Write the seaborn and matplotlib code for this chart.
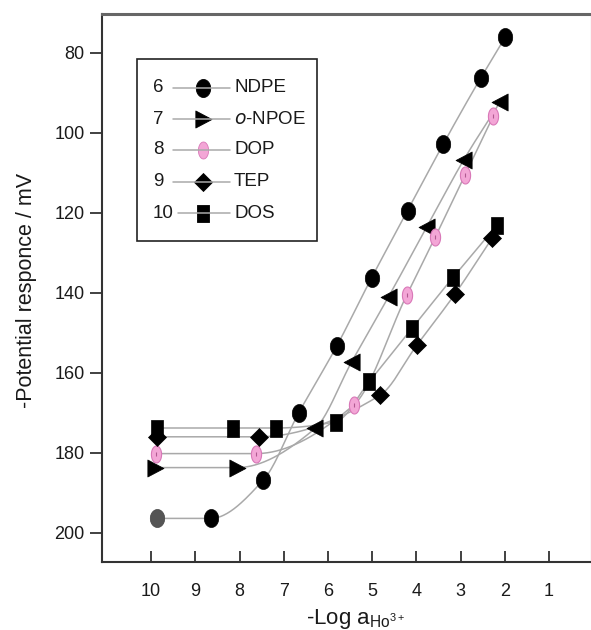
import numpy as np
import pandas as pd
import matplotlib
matplotlib.use("Agg")
import matplotlib.pyplot as plt
from matplotlib.path import Path
from matplotlib.markers import MarkerStyle
from matplotlib.lines import Line2D
from matplotlib.patches import Rectangle
import seaborn as sns

# ---------------- data ----------------
ndpe_x = [9.86, 8.65, 7.46, 6.66, 5.80, 5.01, 4.20, 3.39, 2.54, 1.99]
ndpe_y = [196.4, 196.4, 186.8, 170.0, 153.3, 136.2, 119.5, 102.8, 86.2, 76.1]

npoe_x = [9.91, 8.06, 6.29, 5.46, 4.63, 3.76, 2.93, 2.10]
npoe_y = [183.7, 183.7, 173.9, 157.2, 141.0, 123.5, 106.8, 92.2]
npoe_dir = ['>', '>', '<', '<', '<', '<', '<', '<']

dop_x = [9.89, 7.63, 5.42, 4.22, 3.57, 2.90, 2.26]
dop_y = [180.2, 180.2, 168.1, 140.6, 126.0, 110.6, 95.8]

tep_x = [9.86, 7.57, 4.82, 3.99, 3.12, 2.29]
tep_y = [176.0, 176.0, 165.6, 153.1, 140.2, 126.4]

dos_x = [9.86, 8.14, 7.17, 5.82, 5.06, 4.10, 3.16, 2.18]
dos_y = [173.8, 173.8, 173.8, 172.2, 162.1, 148.9, 136.0, 123.1]

series_names = ["NDPE", "o-NPOE", "DOP", "TEP", "DOS"]
series_nums = ["6", "7", "8", "9", "10"]

x_ticks = [10, 9, 8, 7, 6, 5, 4, 3, 2, 1]
y_ticks = [80, 100, 120, 140, 160, 180, 200]

# ---------------- helpers ----------------
def pchip(x, y, xs):
    x = np.asarray(x, float); y = np.asarray(y, float)
    o = np.argsort(x); x = x[o]; y = y[o]
    h = np.diff(x); d = np.diff(y) / h
    n = len(x); m = np.zeros(n)
    for k in range(1, n - 1):
        if d[k - 1] * d[k] <= 0:
            m[k] = 0.0
        else:
            w1 = 2 * h[k] + h[k - 1]; w2 = h[k] + 2 * h[k - 1]
            m[k] = (w1 + w2) / (w1 / d[k - 1] + w2 / d[k])
    m[0] = d[0] if abs(d[0]) > 1e-9 else 0.0
    m[-1] = d[-1]
    out = np.empty_like(xs)
    for i, xv in enumerate(xs):
        k = min(max(np.searchsorted(x, xv) - 1, 0), n - 2)
        t = (xv - x[k]) / h[k]
        h00 = 2*t**3 - 3*t**2 + 1; h10 = t**3 - 2*t**2 + t
        h01 = -2*t**3 + 3*t**2; h11 = t**3 - t**2
        out[i] = h00*y[k] + h10*h[k]*m[k] + h01*y[k+1] + h11*h[k]*m[k+1]
    return out

def poly_marker(verts):
    v = list(verts) + [verts[0]]
    codes = [Path.MOVETO] + [Path.LINETO] * (len(verts) - 1) + [Path.CLOSEPOLY]
    return MarkerStyle(Path(v, codes))

def ellipse_marker(rx, ry):
    t = np.linspace(0, 2*np.pi, 60, endpoint=False)
    return poly_marker(list(zip(rx*np.cos(t), ry*np.sin(t))))

m_circle = ellipse_marker(0.40, 0.5)
m_pink = ellipse_marker(0.30, 0.5)
m_square = poly_marker([(-0.36, -0.5), (0.36, -0.5), (0.36, 0.5), (-0.36, 0.5)])
m_diamond = poly_marker([(0, -0.5), (0.5, 0), (0, 0.5), (-0.5, 0)])
m_right = poly_marker([(-0.45, -0.5), (0.5, 0), (-0.45, 0.5)])
m_left = poly_marker([(0.45, -0.5), (-0.5, 0), (0.45, 0.5)])

def pt2(px):
    return (px * 0.72) ** 2

# ---------------- style ----------------
sns.set_style("white")
plt.rcParams['font.family'] = ['Liberation Sans', 'DejaVu Sans']
plt.rcParams['mathtext.default'] = 'regular'

W, H = 591, 630
fig = plt.figure(figsize=(W/100, H/100), dpi=100)
L, R, T, B = 102, 591, 14, 562
ax = fig.add_axes([L/W, 1 - B/H, (R-L)/W, (B-T)/H])

line_col = "#a9a9a9"
series = [(ndpe_x, ndpe_y), (npoe_x, npoe_y), (dop_x, dop_y), (tep_x, tep_y), (dos_x, dos_y)]
for (sx, sy), name in zip(series, series_names):
    xs = np.linspace(min(sx), max(sx), 300)
    df_line = pd.DataFrame({"x": xs, "y": pchip(sx, sy, xs)})
    sns.lineplot(data=df_line, x="x", y="y", ax=ax, color=line_col, lw=1.1,
                 sort=False, estimator=None, zorder=1)

# markers
ndpe = pd.DataFrame({"x": ndpe_x, "y": ndpe_y})
sns.scatterplot(data=ndpe.iloc[:1], x="x", y="y", ax=ax, marker=m_circle,
                s=pt2(18), color="#555555", edgecolor="#444444", linewidth=0.5, zorder=3)
sns.scatterplot(data=ndpe.iloc[1:], x="x", y="y", ax=ax, marker=m_circle,
                s=pt2(18), color="black", edgecolor="black", linewidth=0.5, zorder=3)

npoe = pd.DataFrame({"x": npoe_x, "y": npoe_y, "d": npoe_dir})
for dch, mk in (('>', m_right), ('<', m_left)):
    sns.scatterplot(data=npoe[npoe.d == dch], x="x", y="y", ax=ax, marker=mk,
                    s=pt2(17), color="black", edgecolor="black", linewidth=0.5, zorder=3)

dop = pd.DataFrame({"x": dop_x, "y": dop_y})
sns.scatterplot(data=dop, x="x", y="y", ax=ax, marker=m_pink, s=pt2(17),
                color="#f3a6d6", edgecolor="#d978b8", linewidth=0.8, zorder=3)
sns.scatterplot(data=dop, x="x", y="y", ax=ax, marker=MarkerStyle('|'), s=pt2(5),
                color="#b05a90", linewidth=0.8, zorder=4)

tep = pd.DataFrame({"x": tep_x, "y": tep_y})
sns.scatterplot(data=tep, x="x", y="y", ax=ax, marker=m_diamond, s=pt2(18),
                color="black", edgecolor="black", linewidth=0.5, zorder=3)

dos = pd.DataFrame({"x": dos_x, "y": dos_y})
sns.scatterplot(data=dos, x="x", y="y", ax=ax, marker=m_square, s=pt2(17),
                color="black", edgecolor="black", linewidth=0.5, zorder=3)

# axes
ax.set_xlim(11.11, 0.05)
ax.set_ylim(207.3, 70.3)
ax.set_xticks(x_ticks)
ax.set_xticklabels([str(v) for v in x_ticks])
ax.set_yticks(y_ticks)
ax.set_yticklabels([str(v) for v in y_ticks])
ax.tick_params(axis='x', which='major', bottom=True, top=False, direction='in', length=8,
               width=1.3, color="#333333", pad=15, labelsize=13, labelcolor="#1a1a1a")
ax.tick_params(axis='y', which='major', left=True, right=False, direction='out', length=8.5,
               width=1.3, color="#333333", pad=4, labelsize=13, labelcolor="#1a1a1a")
for side in ("left", "bottom"):
    ax.spines[side].set_color("#333333"); ax.spines[side].set_linewidth(1.5)
ax.spines["top"].set_color("#666666"); ax.spines["top"].set_linewidth(2.2)
ax.spines["right"].set_color("#dddddd"); ax.spines["right"].set_linewidth(1.0)

ax.set_xlabel("-Log a$_{Ho^{3+}}$", fontsize=16, color="#1a1a1a")
ax.xaxis.set_label_coords((356 - L)/(R - L), (B - 619)/(B - T))
ax.xaxis.label.set_va("center")
ax.set_ylabel("-Potential responce / mV", fontsize=15.5, color="#1a1a1a")
ax.yaxis.set_label_coords((27 - L)/(R - L), (B - 290)/(B - T))
ax.yaxis.label.set_va("center")

# ---------------- legend (manual) ----------------
def fx(px): return px / W
def fy(py): return 1 - py / H

fig.add_artist(Rectangle((fx(137), fy(241)), fx(317) - fx(137), fy(59) - fy(241),
                         transform=fig.transFigure, fill=False, edgecolor="#222222",
                         linewidth=1.2, zorder=5))
rows_y = [88, 119, 150, 182, 213]
leg_markers = [(m_circle, "black", "black", 18), (m_right, "black", "black", 17),
               (m_pink, "#f3a6d6", "#d978b8", 17), (m_diamond, "black", "black", 18),
               (m_square, "black", "black", 17)]
for i, (ry, num, name, (mk, fc, ec, sz)) in enumerate(zip(rows_y, series_nums, series_names, leg_markers)):
    x0 = 178 if num == "10" else 173
    fig.add_artist(Line2D([fx(x0), fx(230)], [fy(ry), fy(ry)], transform=fig.transFigure,
                          color=line_col, lw=1.1, zorder=5))
    ax.scatter([fx(203)], [fy(ry)], transform=fig.transFigure, marker=mk, s=pt2(sz),
               c=fc, edgecolors=ec, linewidths=0.6, zorder=6, clip_on=False)
    fig.text(fx(153), fy(ry), num, fontsize=13.5, va="center", ha="left", color="#1a1a1a")
    label = "$\\it{o}$-NPOE" if name == "o-NPOE" else name
    fig.text(fx(234), fy(ry), label, fontsize=13.5, va="center", ha="left", color="#1a1a1a")

fig.savefig("out.png", dpi=100)
